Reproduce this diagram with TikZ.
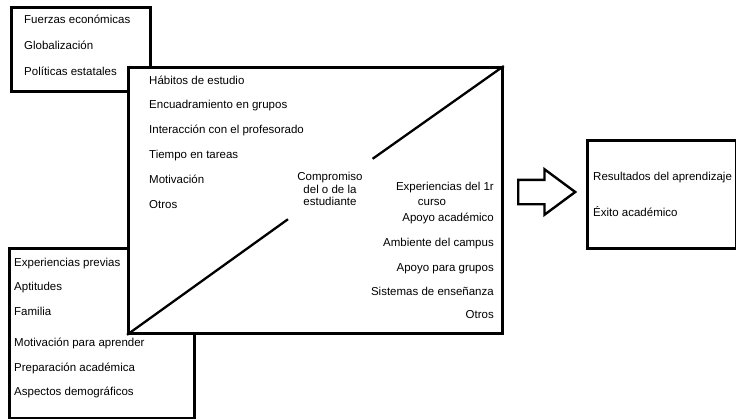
\documentclass[tikz,border=0pt]{standalone}
\usepackage{fontspec}
\setmainfont{Liberation Sans}
\usetikzlibrary{positioning, shapes.arrows}

\tikzset{
    frame/.style={draw, line width=2.8pt, fill=white, anchor=north west, inner sep=0pt},
    entry/.style={anchor=base west, inner sep=0pt, font=\fontsize{11.5}{12.5}\selectfont},
    rentry/.style={entry, anchor=base east},
    diag/.style={line width=2.3pt}
}

\begin{document}
\begin{tikzpicture}[x=1pt, y=-1pt]
    \useasboundingbox (0,0) rectangle (736,418);

    % Define boxes
    \node[frame, minimum width=139pt, minimum height=84pt] (forces) at (10,6) {};
    \node[frame, minimum width=185pt, minimum height=170pt] (prior) at (8,247) {};
    \node[frame, minimum width=374pt, minimum height=266pt] (main) at (127,66) {};
    \node[frame, minimum width=149pt, minimum height=108pt] (outcome) at (586,139) {};

    % Define texts
    \foreach \y/\t [count=\i] in {19/Fuerzas económicas, 45/Globalización, 71/Políticas estatales}
        \node[entry] (forces-\i) at (24,\y+4) {\t};
    \foreach \y/\t [count=\i] in {262/Experiencias previas, 286/Aptitudes, 311/Familia,
        342/Motivación para aprender, 367/Preparación académica, 391/Aspectos demográficos}
        \node[entry] (prior-\i) at (14,\y+4) {\t};
    \foreach \y/\t [count=\i] in {80/Hábitos de estudio, 104/Encuadramiento en grupos,
        129/Interacción con el profesorado, 154/Tiempo en tareas, 179/Motivación, 204/Otros}
        \node[entry] (habit-\i) at (149,\y+4) {\t};
    \foreach \y/\t [count=\i] in {186/Experiencias del 1r, 217/Apoyo académico, 242/Ambiente del campus,
        267/Apoyo para grupos, 291/Sistemas de enseñanza, 314/Otros}
        \node[rentry] (inst-\i) at (494,\y+4) {\t};
    \node[entry, anchor=base] (inst-curso) at (432,205) {curso};
    \foreach \y/\t [count=\i] in {176/Resultados del aprendizaje, 212/Éxito académico}
        \node[entry] (outcome-\i) at (593,\y+4) {\t};

    % Define engagement split
    \node[inner sep=0pt, align=center, minimum width=86pt, minimum height=60pt,
        font=\fontsize{11.5}{12.5}\selectfont] (cmp) at (330,189) {Compromiso\\del o de la\\estudiante};
    \draw[diag] (main.south west) -- (cmp);
    \draw[diag] (cmp) -- (main.north east);

    % Define arrow
    \node[single arrow, draw, line width=2.4pt, minimum height=57pt,
        single arrow head extend=10.5pt, single arrow tip angle=73,
        inner xsep=0pt, inner ysep=11pt, anchor=tail] (flow) at (517,192) {};
\end{tikzpicture}
\end{document}
